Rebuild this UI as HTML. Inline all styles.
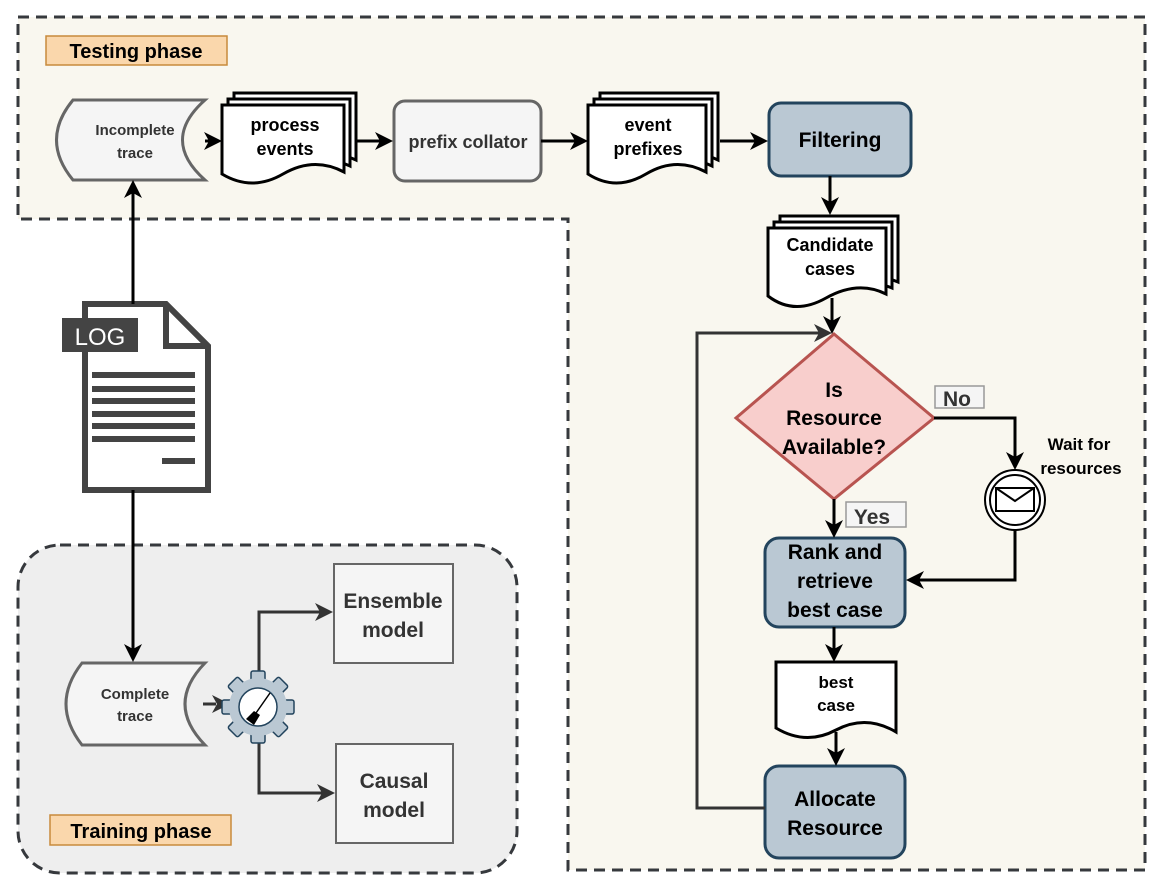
<!DOCTYPE html>
<html><head><meta charset="utf-8"><style>
html,body{margin:0;padding:0;background:#fff;}
svg{display:block;font-family:"Liberation Sans",Arial,sans-serif;font-weight:bold;}
</style></head><body>
<svg width="1164" height="895" viewBox="0 0 1164 895" xmlns="http://www.w3.org/2000/svg">
<!-- Testing phase region -->
<path d="M18 17 H1145 V870 H568 V219 H18 Z" fill="#f9f7ef" stroke="#36393d" stroke-width="3" stroke-dasharray="11 7"/>
<!-- Training phase region -->
<rect x="18" y="545" width="499" height="328" rx="42" fill="#eeeeee" stroke="#36393d" stroke-width="3" stroke-dasharray="11 7"/>

<!-- labels -->
<rect x="46" y="36" width="181" height="29" fill="#fad7ac" stroke="#c88a3c" stroke-width="1.5"/>
<text x="136" y="58" font-size="20" text-anchor="middle" fill="#000">Testing phase</text>
<rect x="50" y="815" width="181" height="30" fill="#fad7ac" stroke="#c88a3c" stroke-width="1.5"/>
<text x="141" y="838" font-size="20" text-anchor="middle" fill="#000">Training phase</text>

<!-- Incomplete trace -->
<path d="M73 100 H205 Q160 140 205 180 H73 Q40 140 73 100 Z" fill="#f5f5f5" stroke="#666" stroke-width="3"/>
<text x="135" y="135" font-size="15" text-anchor="middle" fill="#333">Incomplete</text>
<text x="135" y="158" font-size="15" text-anchor="middle" fill="#333">trace</text>

<!-- process events -->
<g fill="#fff" stroke="#000" stroke-width="3">
<path d="M234 93 H356 V160 Q326 146 296 160 T234 162 Z"/>
<path d="M228 99 H350 V166 Q320 152 290 166 T228 168 Z"/>
<path d="M222 105 H344 V172 Q314 156 283 174 T222 174 Z"/>
</g>
<text x="285" y="131" font-size="18" text-anchor="middle">process</text>
<text x="285" y="155" font-size="18" text-anchor="middle">events</text>

<!-- prefix collator -->
<rect x="394" y="101" width="147" height="80" rx="11" fill="#f5f5f5" stroke="#666" stroke-width="3"/>
<text x="468" y="148" font-size="18" text-anchor="middle" fill="#333">prefix collator</text>

<!-- event prefixes -->
<g fill="#fff" stroke="#000" stroke-width="3">
<path d="M600 93 H718 V160 Q690 146 660 160 T600 162 Z"/>
<path d="M594 99 H712 V166 Q684 152 654 166 T594 168 Z"/>
<path d="M588 105 H706 V172 Q676 156 646 174 T588 174 Z"/>
</g>
<text x="648" y="131" font-size="18" text-anchor="middle">event</text>
<text x="648" y="155" font-size="18" text-anchor="middle">prefixes</text>

<!-- Filtering -->
<rect x="769" y="103" width="142" height="73" rx="12" fill="#bac8d3" stroke="#23445d" stroke-width="3"/>
<text x="840" y="147" font-size="21" text-anchor="middle">Filtering</text>

<!-- Candidate cases -->
<g fill="#fff" stroke="#000" stroke-width="3">
<path d="M780 216 H898 V282 Q870 270 840 284 T780 284 Z"/>
<path d="M774 222 H892 V288 Q864 276 834 290 T774 290 Z"/>
<path d="M768 228 H886 V294 Q858 280 826 298 T768 296 Z"/>
</g>
<text x="830" y="251" font-size="18" text-anchor="middle">Candidate</text>
<text x="830" y="275" font-size="18" text-anchor="middle">cases</text>

<!-- Diamond -->
<path d="M834 334 L934 418 L834 499 L736 418 Z" fill="#f8cecc" stroke="#b85450" stroke-width="3"/>
<text x="834" y="397" font-size="21" text-anchor="middle">Is</text>
<text x="834" y="425" font-size="21" text-anchor="middle">Resource</text>
<text x="834" y="454" font-size="21" text-anchor="middle">Available?</text>

<rect x="935" y="386" width="49" height="22" fill="#f5f5f5" stroke="#999" stroke-width="1.5"/>
<text x="957" y="406" font-size="21" text-anchor="middle" fill="#333">No</text>
<rect x="846" y="502" width="60" height="25" fill="#f5f5f5" stroke="#999" stroke-width="1.5"/>
<text x="872" y="524" font-size="21" text-anchor="middle" fill="#333">Yes</text>

<!-- Rank -->
<rect x="765" y="538" width="140" height="89" rx="14" fill="#bac8d3" stroke="#23445d" stroke-width="3"/>
<text x="835" y="559" font-size="21" text-anchor="middle">Rank and</text>
<text x="835" y="588" font-size="21" text-anchor="middle">retrieve</text>
<text x="835" y="617" font-size="21" text-anchor="middle">best case</text>

<!-- best case doc -->
<path d="M776 662 H896 V732 Q866 714 836 730 T776 728 Z" fill="#fff" stroke="#000" stroke-width="3"/>
<text x="836" y="688" font-size="17" text-anchor="middle">best</text>
<text x="836" y="711" font-size="17" text-anchor="middle">case</text>

<!-- Allocate -->
<rect x="765" y="766" width="140" height="92" rx="14" fill="#bac8d3" stroke="#23445d" stroke-width="3"/>
<text x="835" y="806" font-size="21" text-anchor="middle">Allocate</text>
<text x="835" y="835" font-size="21" text-anchor="middle">Resource</text>

<!-- envelope -->
<circle cx="1015" cy="500" r="30" fill="#fff" stroke="#000" stroke-width="2"/>
<circle cx="1015" cy="500" r="25" fill="#fff" stroke="#000" stroke-width="2"/>
<rect x="996" y="488" width="38" height="23" fill="#fff" stroke="#000" stroke-width="2"/>
<path d="M996 488 L1015 501 L1034 488" fill="none" stroke="#000" stroke-width="2"/>
<text x="1079" y="450" font-size="17" text-anchor="middle">Wait for</text>
<text x="1081" y="474" font-size="17" text-anchor="middle">resources</text>

<!-- LOG icon -->
<path d="M85 304 H166 L208 346 V490 H85 Z" fill="#fff" stroke="#444" stroke-width="6" stroke-linejoin="miter"/>
<path d="M166 304 V346 H208" fill="none" stroke="#444" stroke-width="6"/>
<rect x="62" y="318" width="76" height="34" fill="#444"/>
<text x="100" y="345" font-size="24" font-weight="normal" text-anchor="middle" fill="#fff">LOG</text>
<g fill="#444">
<rect x="92" y="372" width="103" height="6"/>
<rect x="92" y="386" width="103" height="6"/>
<rect x="92" y="398" width="103" height="6"/>
<rect x="92" y="411" width="103" height="6"/>
<rect x="92" y="423" width="103" height="6"/>
<rect x="92" y="436" width="103" height="6"/>
<rect x="162" y="458" width="33" height="6"/>
</g>

<!-- Complete trace -->
<path d="M82 663 H205 Q165 704 205 745 H82 Q50 704 82 663 Z" fill="#f5f5f5" stroke="#666" stroke-width="3"/>
<text x="135" y="699" font-size="15" text-anchor="middle" fill="#333">Complete</text>
<text x="135" y="721" font-size="15" text-anchor="middle" fill="#333">trace</text>

<!-- model boxes -->
<rect x="334" y="564" width="119" height="99" fill="#f5f5f5" stroke="#666" stroke-width="2"/>
<text x="393" y="608" font-size="21" text-anchor="middle" fill="#333">Ensemble</text>
<text x="393" y="637" font-size="21" text-anchor="middle" fill="#333">model</text>
<rect x="336" y="744" width="117" height="99" fill="#f5f5f5" stroke="#666" stroke-width="2"/>
<text x="394" y="788" font-size="21" text-anchor="middle" fill="#333">Causal</text>
<text x="394" y="817" font-size="21" text-anchor="middle" fill="#333">model</text>

<!-- connectors -->
<g fill="none" stroke="#000" stroke-width="3">
<line x1="205" y1="141" x2="214" y2="141"/>
<line x1="357" y1="141" x2="384" y2="141"/>
<line x1="541" y1="141" x2="579" y2="141"/>
<line x1="720" y1="141" x2="759" y2="141"/>
<line x1="830" y1="176" x2="830" y2="204"/>
<line x1="832" y1="298" x2="832" y2="325"/>
<line x1="834" y1="499" x2="834" y2="528"/>
<line x1="834" y1="627" x2="834" y2="652"/>
<line x1="836" y1="732" x2="836" y2="756"/>
<polyline points="934,418 1015,418 1015,462"/>
<polyline points="1015,530 1015,580 915,580"/>
<line x1="133" y1="304" x2="133" y2="189"/>
<line x1="133" y1="490" x2="133" y2="652"/>
</g>
<g fill="none" stroke="#333" stroke-width="3">
<polyline points="765,808 697,808 697,333 822,333"/>
<line x1="203" y1="704" x2="216" y2="704"/>
<polyline points="259,673 259,612 322,612"/>
<polyline points="259,740 259,793 324,793"/>
</g>
<!-- arrowheads -->
<g fill="#000">
<path d="M222 141 L204 132 L209 141 L204 150 Z"/>
<path d="M393 141 L375 132 L380 141 L375 150 Z"/>
<path d="M588 141 L570 132 L575 141 L570 150 Z"/>
<path d="M768 141 L750 132 L755 141 L750 150 Z"/>
<path d="M830 215 L821 197 L830 202 L839 197 Z"/>
<path d="M832 334 L823 316 L832 321 L841 316 Z"/>
<path d="M834 538 L825 520 L834 525 L843 520 Z"/>
<path d="M834 662 L825 644 L834 649 L843 644 Z"/>
<path d="M836 766 L827 748 L836 753 L845 748 Z"/>
<path d="M1015 470 L1006 452 L1015 457 L1024 452 Z"/>
<path d="M906 580 L924 571 L919 580 L924 589 Z"/>
<path d="M133 180 L124 198 L133 193 L142 198 Z"/>
<path d="M133 662 L124 644 L133 649 L142 644 Z"/>
</g>
<g fill="#333">
<path d="M832 333 L814 324 L819 333 L814 342 Z"/>
<path d="M230 704 L212 695 L217 704 L212 713 Z"/>
<path d="M333 612 L315 603 L320 612 L315 621 Z"/>
<path d="M335 793 L317 784 L322 793 L317 802 Z"/>
</g>

<!-- gear -->
<g transform="translate(258,707)" fill="#bac8d3" stroke="#23445d" stroke-width="1.5">
<rect x="-7" y="-36" width="14" height="72" rx="2"/>
<rect x="-7" y="-36" width="14" height="72" rx="2" transform="rotate(45)"/>
<rect x="-7" y="-36" width="14" height="72" rx="2" transform="rotate(90)"/>
<rect x="-7" y="-36" width="14" height="72" rx="2" transform="rotate(135)"/>
<circle r="29" stroke="none"/>
<circle r="19" fill="#fff" stroke="#23445d" stroke-width="1.5"/>
<line x1="12" y1="-14" x2="-2" y2="6" stroke="#000" stroke-width="1.5"/>
<path d="M-4 4 L2 8 L-4 18 L-12 12 Z" fill="#000" stroke="none"/>
</g>
</svg>
</body></html>
